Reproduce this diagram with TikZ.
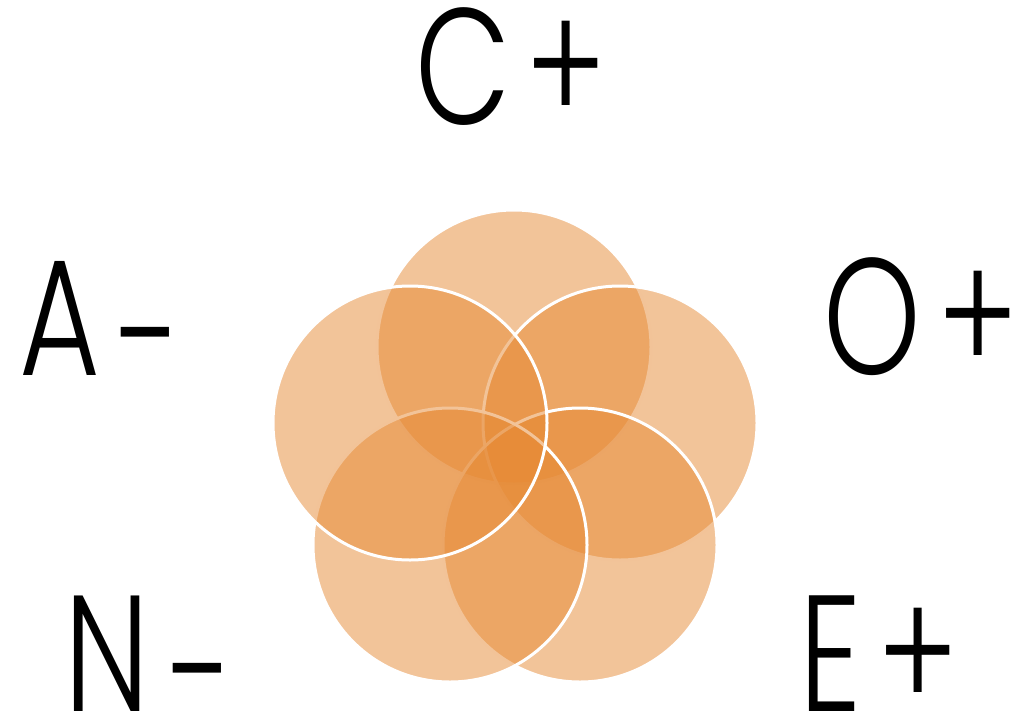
\documentclass[tikz,border=0pt]{standalone}
\usepackage{fontspec}
\setmainfont{Poppins Light}[FakeStretch=0.75]
\definecolor{petal}{RGB}{230,137,51}
\newcommand{\lowdash}{\raisebox{-14pt}[0pt][0pt]{-}}
\tikzset{every picture/.style={line width=0.75pt}}
\tikzset{petalring/.style={fill=petal, fill opacity=0.5, draw=white, line width=2.25pt}}
\tikzset{traitlabel/.style={anchor=base, inner sep=0pt, font=\fontsize{124}{140}\selectfont}}

\begin{document}
\begin{tikzpicture}[x=0.75pt,y=0.75pt,yscale=-1,xscale=1]
\useasboundingbox (0,0) rectangle (1020,721);

%Circle C
\draw [petalring] (514,347) circle (137);
%Circle O
\draw [petalring] (620,423) circle (137);
%Circle E
\draw [petalring] (580,545) circle (137);
%Circle N
\draw [petalring] (450,545) circle (137);
%Circle A
\draw [petalring] (410,423) circle (137);

% Text Node
\node [traitlabel] (cplus) at (511,124) {C\hspace{11pt}+};
% Text Node
\node [traitlabel] (aminus) at (101,375) {A\hspace{13pt}\lowdash};
% Text Node
\node [traitlabel] (oplus) at (921,374) {O\hspace{12pt}+};
% Text Node
\node [traitlabel] (nminus) at (149,711) {N\hspace{15pt}\lowdash};
% Text Node
\node [traitlabel] (eplus) at (879,711) {E\hspace{12pt}+};

\end{tikzpicture}
\end{document}
